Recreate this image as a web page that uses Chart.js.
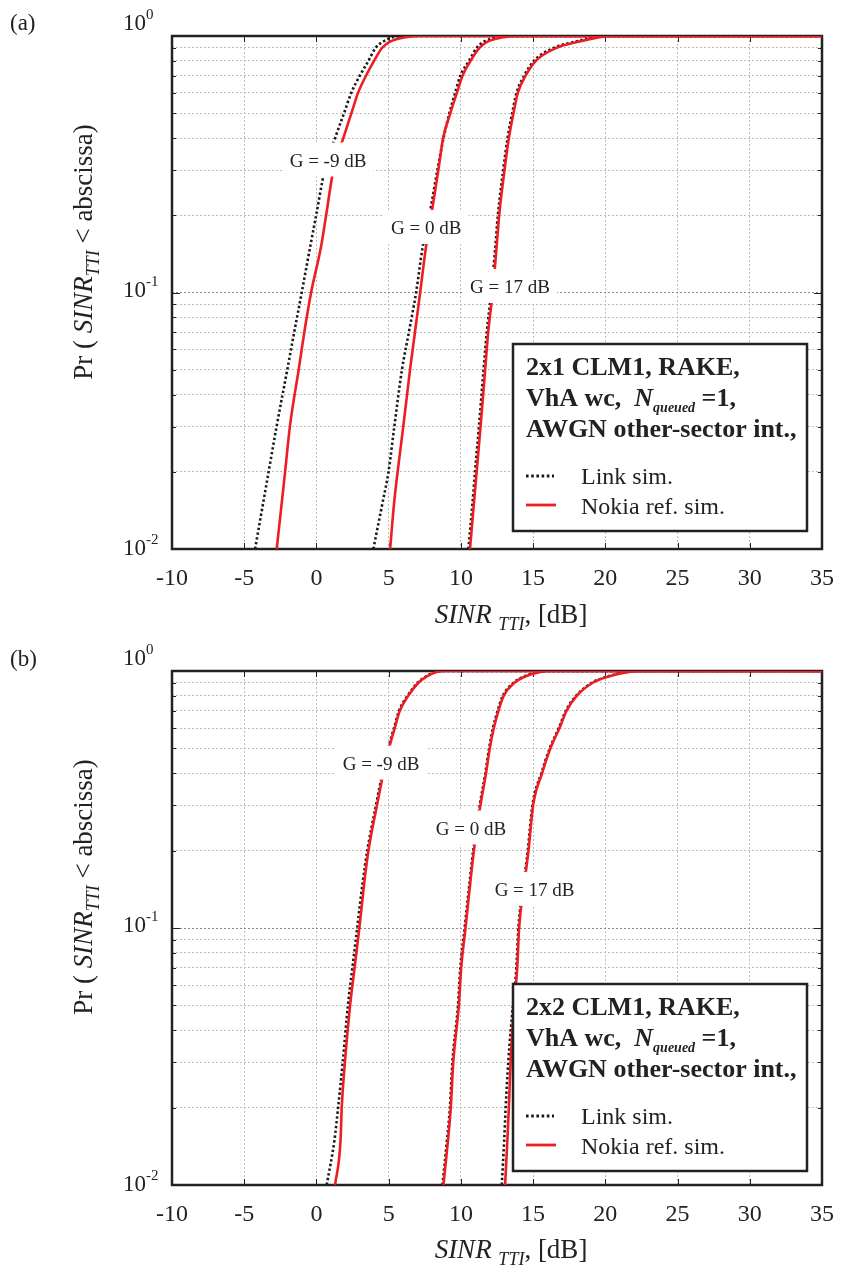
<!DOCTYPE html>
<html>
<head>
<meta charset="utf-8">
<script src="https://cdn.jsdelivr.net/npm/chart.js@4.4.1/dist/chart.umd.min.js"></script>
<style>
  html, body { margin: 0; padding: 0; background: #fff; }
  #wrap { position: relative; width: 842px; height: 1265px; }
  canvas { position: absolute; left: 0; }
</style>
</head>
<body>
<div id="wrap">
  <canvas id="chartA" width="842" height="632" style="top:0"></canvas>
  <canvas id="chartB" width="842" height="633" style="top:632px"></canvas>
</div>
<script>
// probability levels shared by every CDF curve (ordinate)
const P_LEVELS = [0.01, 0.015, 0.02, 0.03, 0.05, 0.07, 0.1, 0.15, 0.2, 0.3, 0.4, 0.5, 0.6, 0.7, 0.8, 0.9, 0.95, 0.99, 1];
const SINR_END = 35;

// (a) 2x1 CLM1 - SINR [dB] at each probability level
const a_m9_link  = [-4.25, -3.70, -3.31, -2.76, -2.02, -1.54, -1.02, -0.44, -0.02, 0.57, 1.29, 1.91, 2.41, 3.0, 3.6, 4.1, 4.6, 5.3, 5.9];
const a_m9_nokia = [-2.75, -2.41, -2.17, -1.84, -1.23, -0.84, -0.37, 0.31, 0.67, 1.17, 1.86, 2.42, 2.88, 3.43, 3.99, 4.55, 5.1, 6.2, 7.2];
const a_0_link   = [3.94, 4.56, 4.99, 5.39, 5.92, 6.4, 6.9, 7.35, 7.82, 8.37, 8.8, 9.2, 9.6, 9.96, 10.56, 11.1, 11.6, 12.5, 13.5];
const a_0_nokia  = [5.1, 5.37, 5.62, 6.01, 6.48, 6.82, 7.18, 7.58, 7.95, 8.44, 8.77, 9.27, 9.72, 10.11, 10.67, 11.3, 11.85, 13.0, 14.2];
const a_17_link  = [10.52, 10.8, 10.98, 11.25, 11.57, 11.79, 12.1, 12.38, 12.56, 12.93, 13.23, 13.55, 13.85, 14.38, 15.05, 16.45, 17.9, 19.3, 20.2];
const a_17_nokia = [10.63, 10.9, 11.09, 11.36, 11.68, 11.89, 12.2, 12.47, 12.65, 13.02, 13.32, 13.64, 13.94, 14.48, 15.19, 16.64, 18.13, 19.6, 20.5];

// (b) 2x2 CLM1
const b_m9_link  = [0.71, 1.25, 1.5, 1.82, 2.18, 2.49, 2.82, 3.2, 3.52, 4.12, 4.57, 4.97, 5.37, 5.72, 6.3, 7.0, 7.55, 8.2, 8.9];
const b_m9_nokia = [1.29, 1.67, 1.75, 1.97, 2.33, 2.64, 2.97, 3.31, 3.6, 4.19, 4.63, 5.02, 5.42, 5.77, 6.35, 7.06, 7.62, 8.3, 9.0];
const b_0_link   = [8.72, 9.04, 9.24, 9.41, 9.8, 9.96, 10.26, 10.6, 10.85, 11.3, 11.69, 11.95, 12.22, 12.54, 12.9, 13.64, 14.33, 15.3, 16.1];
const b_0_nokia  = [8.79, 9.11, 9.3, 9.47, 9.86, 10.02, 10.32, 10.65, 10.9, 11.35, 11.74, 12.0, 12.28, 12.6, 12.96, 13.71, 14.41, 15.4, 16.2];
const b_17_link  = [12.83, 13.0, 13.1, 13.28, 13.6, 13.84, 13.98, 14.35, 14.63, 14.95, 15.57, 16.15, 16.78, 17.26, 17.97, 19.07, 20.1, 21.4, 22.2];
const b_17_nokia = [13.06, 13.22, 13.32, 13.44, 13.68, 13.9, 14.03, 14.4, 14.68, 15.0, 15.62, 16.2, 16.83, 17.31, 18.02, 19.13, 20.17, 21.5, 22.3];

// axis ticks
const X_TICKS = [-10, -5, 0, 5, 10, 15, 20, 25, 30, 35];
const Y_DECADES = [0.01, 0.1, 1];

// curve labels: [text, SINR, probability]
const a_labels = [["G = -9 dB", 0.8, 0.33], ["G = 0 dB", 7.6, 0.18], ["G = 17 dB", 13.4, 0.106]];
const b_labels = [["G = -9 dB", 4.47, 0.44], ["G = 0 dB", 10.7, 0.246], ["G = 17 dB", 15.1, 0.142]];

const SERIF = '"Liberation Serif", "Times New Roman", serif';
const RED = "#ee1d24";
const INK = "#222";

function f(size, style) {
  return (style || "") + " " + size + "px " + SERIF;
}

function toPoints(sinr) {
  return sinr.map((x, i) => ({ x: x, y: P_LEVELS[i] })).concat([{ x: SINR_END, y: 1 }]);
}

function drawRuns(ctx, runs, x, y, align) {
  let total = 0;
  runs.forEach((r) => {
    ctx.font = r.font;
    total += ctx.measureText(r.text).width;
  });
  let cx = align === "center" ? x - total / 2 : align === "right" ? x - total : x;
  ctx.textAlign = "left";
  ctx.textBaseline = "alphabetic";
  runs.forEach((r) => {
    ctx.font = r.font;
    ctx.fillText(r.text, cx, y + (r.dy || 0));
    cx += ctx.measureText(r.text).width;
  });
}

const decor = {
  id: "decor",
  beforeDatasetsDraw(chart, args, opts) {
    const ctx = chart.ctx;
    const a = chart.chartArea;
    const xs = chart.scales.x;
    const ys = chart.scales.y;
    ctx.save();
    ctx.strokeStyle = INK;
    ctx.lineWidth = 1;
    // inward tick marks
    X_TICKS.forEach((v) => {
      const px = Math.round(xs.getPixelForValue(v)) + 0.5;
      ctx.beginPath();
      ctx.moveTo(px, a.bottom);
      ctx.lineTo(px, a.bottom - 6);
      ctx.moveTo(px, a.top);
      ctx.lineTo(px, a.top + 6);
      ctx.stroke();
    });
    ys.ticks.forEach((t) => {
      const py = Math.round(ys.getPixelForValue(t.value)) + 0.5;
      const len = Y_DECADES.includes(t.value) ? 8 : 4;
      ctx.beginPath();
      ctx.moveTo(a.left, py);
      ctx.lineTo(a.left + len, py);
      ctx.moveTo(a.right, py);
      ctx.lineTo(a.right - len, py);
      ctx.stroke();
    });
    // frame
    ctx.lineWidth = 2.5;
    ctx.strokeRect(a.left, a.top, a.right - a.left, a.bottom - a.top);
    ctx.restore();
  },
  afterDatasetsDraw(chart, args, opts) {
    const ctx = chart.ctx;
    const a = chart.chartArea;
    const xs = chart.scales.x;
    const ys = chart.scales.y;
    ctx.save();
    ctx.fillStyle = INK;

    // panel letter
    drawRuns(ctx, [{ text: opts.panel, font: f(23) }], 10, opts.panelY, "left");

    // y tick labels 10^k
    Y_DECADES.forEach((v) => {
      const py = ys.getPixelForValue(v);
      const e = Math.round(Math.log10(v));
      const base = v === 1 ? py - 6 : py + 4 + (v === 0.01 ? 2 : 0);
      drawRuns(ctx, [
        { text: "10", font: f(23) },
        { text: String(e), font: f(15), dy: -11 },
      ], 123, base, "left");
    });

    // y title (rotated)
    ctx.save();
    ctx.translate(opts.yTitleX, a.top + opts.yTitleDy);
    ctx.rotate(-Math.PI / 2);
    drawRuns(ctx, [
      { text: "Pr ( ", font: f(27) },
      { text: "SINR", font: f(27, "italic") },
      { text: "TTI", font: f(18, "italic"), dy: 7 },
      { text: " < abscissa)", font: f(27) },
    ], 0, 0, "center");
    ctx.restore();

    // x title
    drawRuns(ctx, [
      { text: "SINR ", font: f(27, "italic") },
      { text: "TTI", font: f(18, "italic"), dy: 7 },
      { text: ", [dB]", font: f(27) },
    ], (a.left + a.right) / 2 + 14, a.bottom + opts.xTitleDy, "center");

    // curve labels on white boxes
    opts.labels.forEach(([txt, sx, p]) => {
      const cx = xs.getPixelForValue(sx);
      const cy = ys.getPixelForValue(p);
      ctx.font = f(19);
      const w = ctx.measureText(txt).width;
      ctx.fillStyle = "#fff";
      ctx.fillRect(cx - w / 2 - 7, cy - 17, w + 14, 34);
      ctx.fillStyle = INK;
      drawRuns(ctx, [{ text: txt, font: f(19) }], cx, cy + 7, "center");
    });

    // legend box
    const lw = 294, lh = 187;
    const lx = a.right - 15 - lw;
    const ly = a.bottom - opts.legendBottom - lh;
    ctx.fillStyle = "#fff";
    ctx.fillRect(lx, ly, lw, lh);
    ctx.strokeStyle = INK;
    ctx.lineWidth = 2.5;
    ctx.strokeRect(lx, ly, lw, lh);
    ctx.fillStyle = INK;
    drawRuns(ctx, [{ text: opts.legendTitle, font: f(26, "bold") }], lx + 13, ly + 31, "left");
    drawRuns(ctx, [
      { text: "VhA wc,  ", font: f(26, "bold") },
      { text: "N", font: f(26, "italic bold") },
      { text: "queued", font: f(14, "italic bold"), dy: 6 },
      { text: " =1,", font: f(26, "bold") },
    ], lx + 13, ly + 62, "left");
    drawRuns(ctx, [{ text: "AWGN other-sector int.,", font: f(26, "bold") }], lx + 13, ly + 93, "left");
    drawRuns(ctx, [{ text: "Link sim.", font: f(24) }], lx + 68, ly + 140, "left");
    drawRuns(ctx, [{ text: "Nokia ref. sim.", font: f(24) }], lx + 68, ly + 170, "left");
    ctx.lineWidth = 2.8;
    ctx.strokeStyle = "#1a1a1a";
    ctx.setLineDash([2.6, 2.6]);
    ctx.beginPath();
    ctx.moveTo(lx + 13, ly + 132);
    ctx.lineTo(lx + 41, ly + 132);
    ctx.stroke();
    ctx.setLineDash([]);
    ctx.strokeStyle = RED;
    ctx.beginPath();
    ctx.moveTo(lx + 13, ly + 161);
    ctx.lineTo(lx + 43, ly + 161);
    ctx.stroke();
    ctx.restore();
  },
};

function makeChart(id, curves, o) {
  const datasets = [];
  curves.forEach(([link, nokia]) => {
    datasets.push({
      label: "Link sim.",
      data: toPoints(link),
      borderColor: "#1a1a1a",
      borderWidth: 2.6,
      borderDash: [2.4, 2.4],
      pointRadius: 0,
      cubicInterpolationMode: "monotone",
      order: 1,
    });
    datasets.push({
      label: "Nokia ref. sim.",
      data: toPoints(nokia),
      borderColor: RED,
      borderWidth: 2.6,
      pointRadius: 0,
      cubicInterpolationMode: "monotone",
      order: 0,
    });
  });

  new Chart(document.getElementById(id), {
    type: "line",
    data: { datasets: datasets },
    plugins: [decor],
    options: {
      responsive: false,
      animation: false,
      devicePixelRatio: 1,
      layout: { padding: { top: o.top, right: 20, left: 0, bottom: 0 } },
      plugins: {
        legend: { display: false },
        tooltip: { enabled: false },
        decor: o,
      },
      scales: {
        x: {
          type: "linear",
          min: -10,
          max: 35,
          afterBuildTicks: (s) => {
            s.ticks = X_TICKS.map((v) => ({ value: v }));
          },
          afterFit: (s) => {
            s.height = o.xHeight;
            s.paddingLeft = 0;
            s.paddingRight = 0;
          },
          ticks: {
            font: { family: SERIF, size: 24 },
            color: INK,
            padding: 15,
            maxRotation: 0,
            autoSkip: false,
          },
          grid: { color: "#bdbdbd", lineWidth: 1, drawTicks: false },
          border: { display: false, dash: [2, 2] },
        },
        y: {
          type: "logarithmic",
          min: 0.01,
          max: 1,
          afterBuildTicks: (s) => {
            const t = [];
            [0.01, 0.1].forEach((d) => {
              for (let k = 1; k < 10; k++) t.push({ value: +(d * k).toPrecision(3) });
            });
            t.push({ value: 1 });
            s.ticks = t;
          },
          afterFit: (s) => {
            s.width = 172;
            s.paddingTop = 0;
            s.paddingBottom = 0;
          },
          ticks: { display: false },
          grid: {
            color: (c) => (c.tick && Y_DECADES.includes(c.tick.value) ? "#8a8a8a" : "#bdbdbd"),
            lineWidth: 1,
            drawTicks: false,
          },
          border: { display: false, dash: [2, 2] },
        },
      },
    },
  });
}

makeChart("chartA",
  [[a_m9_link, a_m9_nokia], [a_0_link, a_0_nokia], [a_17_link, a_17_nokia]],
  {
    top: 36, xHeight: 83, panel: "(a)", panelY: 30,
    yTitleX: 92, yTitleDy: 216, xTitleDy: 74,
    labels: a_labels, legendTitle: "2x1 CLM1, RAKE,", legendBottom: 18,
  });

makeChart("chartB",
  [[b_m9_link, b_m9_nokia], [b_0_link, b_0_nokia], [b_17_link, b_17_nokia]],
  {
    top: 39, xHeight: 80, panel: "(b)", panelY: 34,
    yTitleX: 92, yTitleDy: 216, xTitleDy: 73,
    labels: b_labels, legendTitle: "2x2 CLM1, RAKE,", legendBottom: 14,
  });
</script>
</body>
</html>
